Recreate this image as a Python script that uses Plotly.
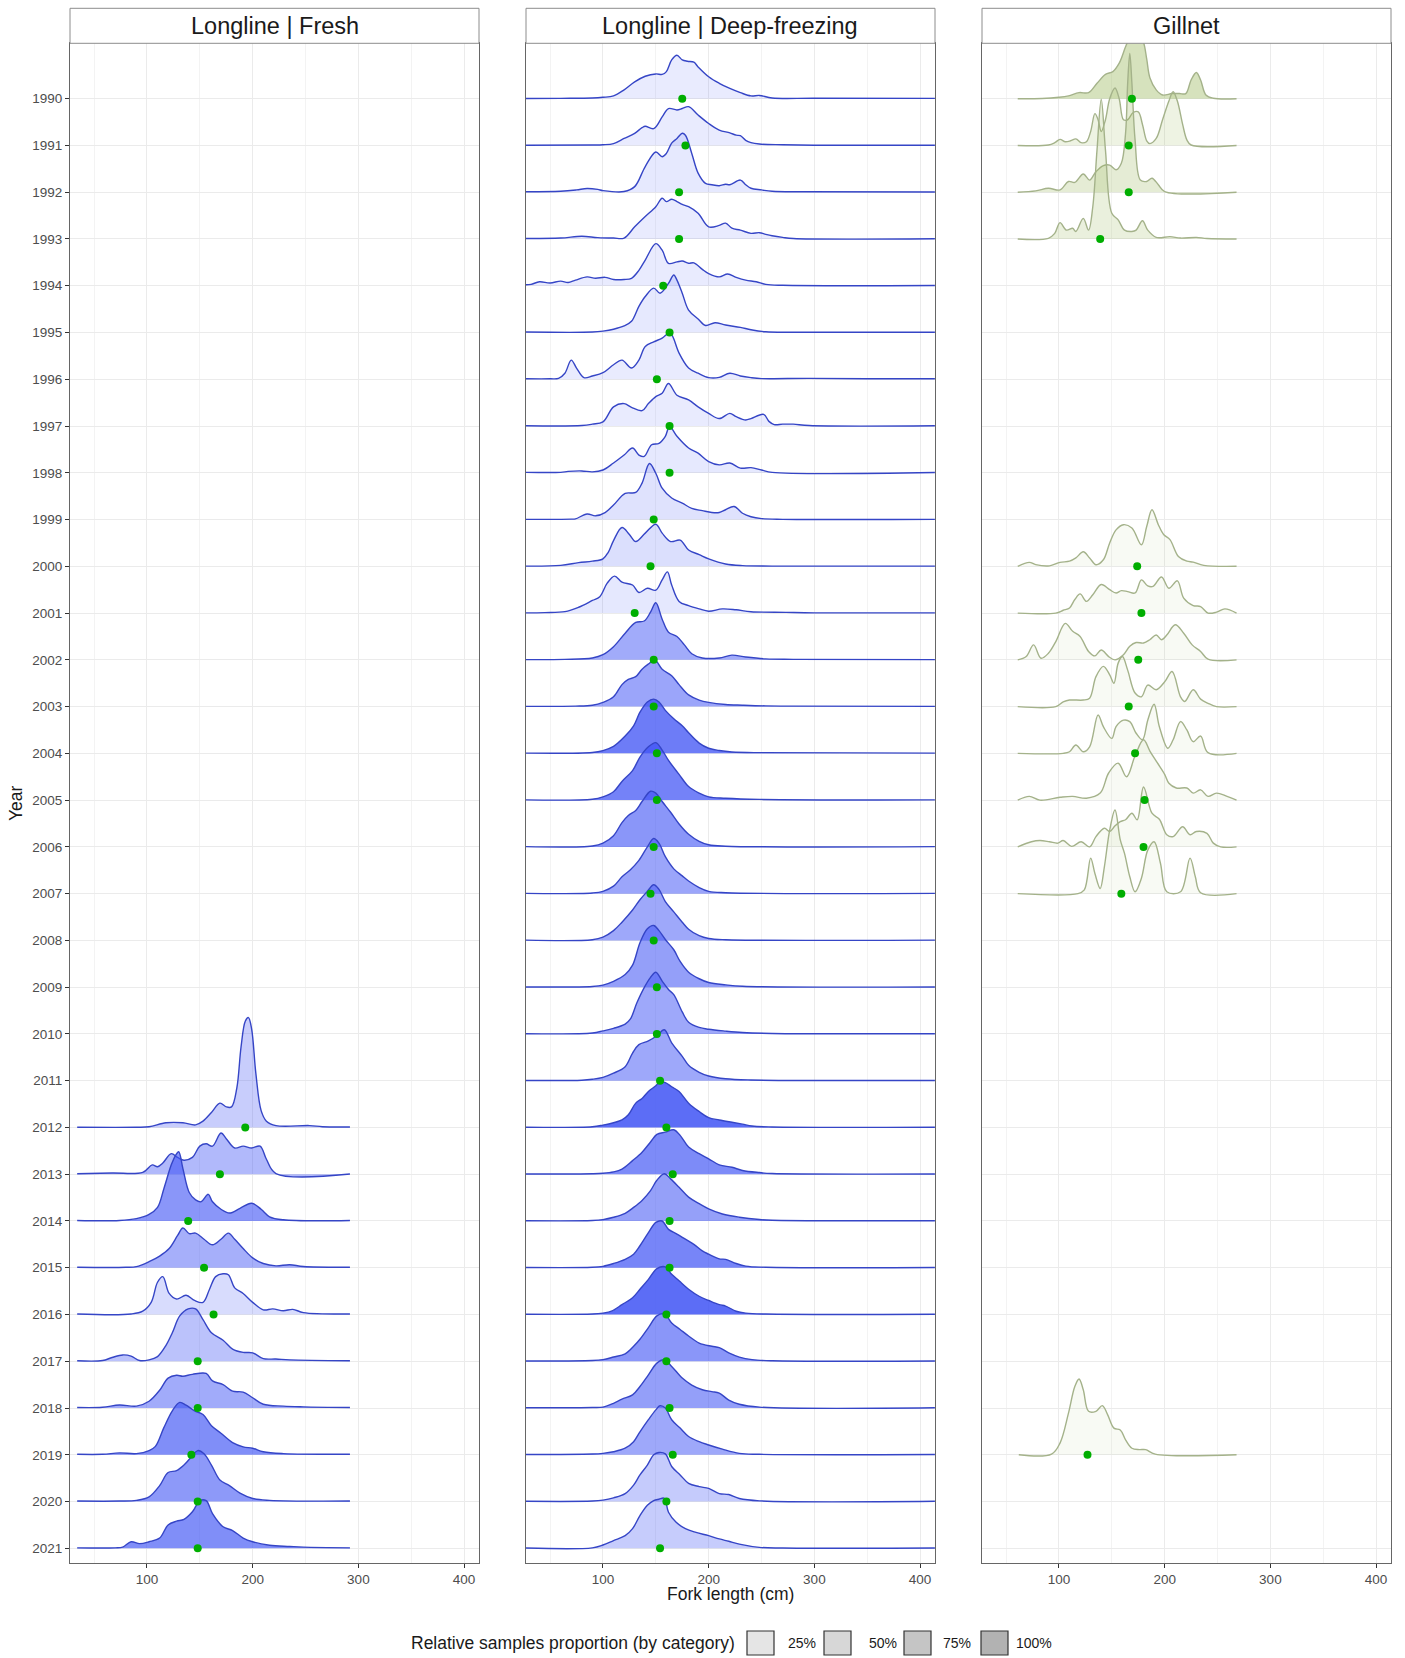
import plotly.graph_objects as go

# ---------------------------------------------------------------- data
YEARS = list(range(1990, 2022))
X_TICKS = [100, 200, 300, 400]
X_MINOR = [50, 150, 250, 350]
PANELS = ["Longline | Fresh", "Longline | Deep-freezing", "Gillnet"]
PROPORTION_LABELS = ["25%", "50%", "75%", "100%"]

# Longline | Fresh : scaled density profiles (fork length cm, height in rows)
FRESH_YEARS = [2012, 2013, 2014, 2015, 2016, 2017, 2018, 2019, 2020, 2021]
FRESH_PROP = [0.34, 0.48, 0.72, 0.55, 0.24, 0.42, 0.58, 0.78, 0.70, 0.78]
FRESH_MEAN = [193, 169, 139, 154, 163, 148, 148, 142, 148, 148]
FRESH_DENSITY = {
    2012: [(34, 0.005), (90, 0.005), (102, 0.015), (118, 0.1), (134, 0.1), (146, 0.055), (153, 0.135),
           (161, 0.32), (169, 0.52), (175, 0.44), (180, 0.44), (185, 0.84), (189, 1.72), (193, 2.27),
           (196, 2.35), (199, 2.11), (203, 1.16), (208, 0.36), (213, 0.135), (222, 0.04), (254, 0.04),
           (266, 0.015), (292, 0.01)],
    2013: [(34, 0.01), (67, 0.025), (96, 0.04), (105, 0.2), (110, 0.16), (115, 0.24), (123, 0.44),
           (129, 0.36), (135, 0.3), (143, 0.36), (150, 0.6), (156, 0.65), (162, 0.6), (170, 0.88),
           (175, 0.76), (183, 0.56), (191, 0.6), (199, 0.56), (207, 0.6), (213, 0.32), (222, 0.015),
           (292, 0.005)],
    2014: [(34, 0.01), (74, 0.01), (90, 0.05), (102, 0.14), (110, 0.29), (116, 0.69), (123, 1.2),
           (127, 1.4), (130, 1.48), (134, 1.12), (140, 0.61), (146, 0.45), (151, 0.41), (158, 0.57),
           (162, 0.41), (170, 0.25), (178, 0.17), (188, 0.27), (199, 0.38), (208, 0.25), (216, 0.09),
           (229, 0.025), (292, 0.01)],
    2015: [(34, 0.01), (80, 0.01), (90, 0.025), (102, 0.13), (112, 0.25), (121, 0.41), (129, 0.69),
           (134, 0.85), (140, 0.73), (146, 0.74), (154, 0.61), (162, 0.49), (170, 0.61), (177, 0.74),
           (183, 0.61), (191, 0.41), (200, 0.21), (210, 0.09), (222, 0.04), (235, 0.065), (248, 0.025),
           (292, 0.01)],
    2016: [(34, 0.01), (85, 0.01), (96, 0.07), (104, 0.26), (110, 0.69), (115, 0.81), (121, 0.45),
           (128, 0.33), (137, 0.41), (145, 0.3), (153, 0.26), (159, 0.53), (165, 0.81), (172, 0.87),
           (177, 0.85), (183, 0.57), (191, 0.45), (200, 0.26), (210, 0.1), (219, 0.12), (229, 0.08),
           (238, 0.11), (248, 0.04), (292, 0.01)],
    2017: [(34, 0.01), (58, 0.015), (67, 0.08), (77, 0.135), (85, 0.11), (93, 0.015), (102, 0.03),
           (110, 0.1), (118, 0.34), (124, 0.61), (131, 0.97), (139, 1.12), (146, 1.12), (153, 0.89),
           (161, 0.61), (172, 0.45), (181, 0.26), (191, 0.19), (200, 0.18), (210, 0.056), (222, 0.048),
           (235, 0.03), (292, 0.01)],
    2018: [(34, 0.01), (58, 0.015), (74, 0.065), (90, 0.04), (102, 0.145), (112, 0.38), (120, 0.64),
           (128, 0.7), (134, 0.68), (143, 0.72), (156, 0.74), (162, 0.58), (172, 0.5), (181, 0.36),
           (191, 0.34), (200, 0.22), (210, 0.08), (229, 0.04), (248, 0.025), (292, 0.01)],
    2019: [(34, 0.01), (58, 0.01), (74, 0.04), (90, 0.025), (102, 0.09), (108, 0.18), (116, 0.58),
           (124, 0.94), (131, 1.12), (137, 1.06), (145, 0.94), (153, 0.86), (161, 0.62), (170, 0.46),
           (181, 0.26), (191, 0.17), (200, 0.14), (210, 0.065), (229, 0.025), (292, 0.01)],
    2020: [(34, 0.01), (74, 0.01), (90, 0.025), (102, 0.1), (112, 0.34), (120, 0.62), (128, 0.66),
           (135, 0.78), (143, 0.98), (148, 1.09), (154, 1.02), (161, 0.78), (169, 0.46), (178, 0.34),
           (188, 0.18), (200, 0.065), (216, 0.025), (292, 0.01)],
    2021: [(34, 0.01), (70, 0.01), (77, 0.025), (85, 0.14), (93, 0.1), (102, 0.14), (112, 0.22),
           (120, 0.5), (128, 0.58), (135, 0.62), (143, 0.78), (150, 1.02), (156, 1.02), (162, 0.74),
           (172, 0.46), (181, 0.38), (191, 0.22), (200, 0.14), (216, 0.065), (235, 0.04), (248, 0.025),
           (292, 0.01)],
}

# Longline | Deep-freezing
DEEP_YEARS = YEARS
DEEP_PROP = [0.14, 0.14, 0.15, 0.14, 0.14, 0.15, 0.14, 0.14, 0.15, 0.2, 0.22, 0.16,
             0.58, 0.62, 0.9, 0.86, 0.72, 0.62, 0.6, 0.66, 0.6, 0.6,
             1.0, 0.8, 0.65, 0.84, 1.0, 0.72, 0.66, 0.6, 0.36, 0.35]
DEEP_MEAN = [175, 178, 172, 172, 157, 163, 151, 163, 163, 148, 145, 130,
             148, 148, 151, 151, 148, 145, 148, 151, 151, 154,
             160, 166, 163, 163, 160, 160, 163, 166, 160, 154]
DEEP_DENSITY = {
    1990: [(27, 0.005), (60, 0.008), (90, 0.015), (100, 0.03), (110, 0.06), (120, 0.19), (130, 0.36),
           (140, 0.48), (150, 0.53), (156, 0.52), (160, 0.58), (165, 0.83), (170, 0.93), (175, 0.83),
           (180, 0.8), (186, 0.78), (190, 0.68), (200, 0.47), (210, 0.33), (220, 0.22), (230, 0.13),
           (240, 0.06), (248, 0.07), (260, 0.015), (300, 0.01), (414, 0.008)],
    1991: [(27, 0.005), (90, 0.01), (100, 0.015), (110, 0.04), (120, 0.15), (130, 0.26), (137, 0.38),
           (140, 0.41), (148, 0.36), (156, 0.61), (162, 0.79), (170, 0.76), (175, 0.79), (181, 0.83),
           (190, 0.65), (200, 0.47), (210, 0.33), (220, 0.27), (226, 0.22), (230, 0.21), (235, 0.11),
           (240, 0.06), (248, 0.03), (270, 0.015), (300, 0.005), (414, 0.005)],
    1992: [(27, 0.01), (60, 0.02), (75, 0.05), (85, 0.08), (95, 0.06), (100, 0.035), (120, 0.015),
           (130, 0.12), (140, 0.55), (150, 0.86), (156, 0.76), (160, 0.83), (165, 1.05), (170, 1.15),
           (175, 1.26), (178, 1.22), (184, 0.83), (190, 0.41), (197, 0.19), (203, 0.16), (210, 0.14),
           (216, 0.17), (220, 0.16), (230, 0.26), (235, 0.16), (240, 0.085), (250, 0.05), (260, 0.02),
           (290, 0.01), (414, 0.005)],
    1993: [(27, 0.01), (60, 0.02), (80, 0.06), (95, 0.03), (110, 0.02), (120, 0.02), (130, 0.26),
           (140, 0.48), (150, 0.69), (156, 0.87), (160, 0.8), (165, 0.85), (170, 0.8), (175, 0.74),
           (181, 0.69), (190, 0.55), (200, 0.26), (210, 0.29), (216, 0.34), (222, 0.23), (230, 0.19),
           (240, 0.12), (248, 0.135), (254, 0.1), (260, 0.07), (270, 0.035), (280, 0.01), (414, 0.005)],
    1994: [(27, 0.02), (32, 0.03), (40, 0.085), (50, 0.06), (60, 0.1), (67, 0.07), (74, 0.12), (85, 0.19),
           (93, 0.16), (102, 0.18), (110, 0.135), (120, 0.135), (127, 0.16), (134, 0.33), (140, 0.55),
           (150, 0.9), (156, 0.76), (162, 0.48), (170, 0.51), (175, 0.53), (181, 0.48), (186, 0.49),
           (194, 0.35), (200, 0.26), (210, 0.19), (218, 0.25), (226, 0.18), (235, 0.12), (245, 0.085),
           (254, 0.03), (270, 0.01), (414, 0.005)],
    1995: [(27, 0.01), (90, 0.01), (100, 0.03), (110, 0.07), (120, 0.14), (127, 0.24), (134, 0.56),
           (140, 0.77), (148, 0.95), (154, 0.84), (162, 1.05), (167, 1.23), (170, 1.12), (175, 0.84),
           (181, 0.48), (190, 0.29), (197, 0.15), (206, 0.21), (216, 0.16), (230, 0.11), (240, 0.06),
           (254, 0.015), (280, 0.005), (414, 0.005)],
    1996: [(27, 0.01), (50, 0.01), (58, 0.02), (64, 0.13), (70, 0.41), (75, 0.24), (82, 0.035), (90, 0.07),
           (100, 0.14), (110, 0.31), (118, 0.41), (127, 0.24), (134, 0.41), (140, 0.7), (148, 0.8),
           (156, 0.88), (162, 0.98), (165, 0.95), (172, 0.56), (181, 0.24), (190, 0.13), (200, 0.035),
           (210, 0.04), (220, 0.13), (230, 0.07), (240, 0.035), (250, 0.015), (295, 0.02), (350, 0.01),
           (414, 0.01)],
    1997: [(27, 0.005), (80, 0.01), (90, 0.04), (100, 0.09), (110, 0.41), (120, 0.48), (127, 0.4),
           (137, 0.33), (143, 0.48), (150, 0.63), (156, 0.7), (162, 0.91), (170, 0.66), (181, 0.56),
           (190, 0.41), (200, 0.27), (210, 0.16), (220, 0.27), (226, 0.2), (235, 0.13), (240, 0.16),
           (252, 0.25), (257, 0.1), (262, 0.03), (270, 0.04), (280, 0.04), (295, 0.01), (414, 0.005)],
    1998: [(27, 0.01), (60, 0.01), (67, 0.03), (80, 0.04), (90, 0.02), (100, 0.06), (110, 0.21),
           (120, 0.38), (128, 0.53), (134, 0.38), (139, 0.35), (146, 0.6), (153, 0.63), (159, 0.78),
           (163, 0.99), (170, 0.78), (181, 0.53), (190, 0.42), (200, 0.24), (210, 0.17), (220, 0.21),
           (230, 0.1), (240, 0.11), (250, 0.06), (260, 0.01), (414, 0.005)],
    1999: [(27, 0.005), (70, 0.01), (74, 0.015), (85, 0.12), (93, 0.08), (102, 0.15), (110, 0.31),
           (121, 0.56), (131, 0.58), (137, 0.78), (144, 1.2), (150, 0.99), (156, 0.67), (165, 0.46),
           (175, 0.35), (184, 0.24), (194, 0.19), (203, 0.15), (210, 0.15), (216, 0.21), (224, 0.28),
           (232, 0.135), (240, 0.06), (250, 0.02), (270, 0.005), (414, 0.005)],
    2000: [(27, 0.005), (60, 0.02), (77, 0.08), (90, 0.11), (100, 0.16), (105, 0.3), (110, 0.55),
           (118, 0.83), (125, 0.68), (131, 0.53), (140, 0.71), (150, 0.9), (156, 0.71), (164, 0.53),
           (173, 0.56), (181, 0.35), (191, 0.25), (200, 0.16), (216, 0.05), (232, 0.015), (260, 0.005),
           (414, 0.005)],
    2001: [(27, 0.005), (45, 0.01), (64, 0.03), (77, 0.125), (90, 0.27), (97, 0.35), (104, 0.64),
           (111, 0.79), (118, 0.66), (128, 0.6), (134, 0.44), (142, 0.53), (150, 0.49), (156, 0.71),
           (161, 0.88), (165, 0.6), (172, 0.25), (181, 0.16), (191, 0.09), (200, 0.04), (213, 0.09),
           (226, 0.07), (240, 0.03), (273, 0.015), (300, 0.005), (414, 0.005)],
    2002: [(27, 0.005), (64, 0.01), (90, 0.04), (100, 0.11), (110, 0.28), (121, 0.57), (131, 0.8),
           (139, 0.83), (145, 1.02), (150, 1.22), (156, 0.87), (162, 0.59), (170, 0.5), (177, 0.32),
           (184, 0.13), (194, 0.04), (210, 0.04), (222, 0.1), (235, 0.06), (254, 0.02), (280, 0.01),
           (414, 0.005)],
    2003: [(27, 0.005), (74, 0.01), (90, 0.03), (100, 0.09), (110, 0.21), (118, 0.47), (124, 0.58),
           (131, 0.64), (137, 0.8), (143, 0.91), (149, 1.0), (156, 0.8), (165, 0.66), (172, 0.47),
           (181, 0.25), (191, 0.14), (200, 0.09), (216, 0.045), (232, 0.03), (254, 0.015), (280, 0.01),
           (414, 0.005)],
    2004: [(27, 0.005), (90, 0.02), (100, 0.06), (110, 0.15), (121, 0.37), (129, 0.59), (135, 0.88),
           (142, 1.1), (148, 1.16), (153, 1.1), (159, 0.92), (167, 0.74), (175, 0.59), (181, 0.44),
           (191, 0.22), (200, 0.11), (210, 0.06), (222, 0.03), (248, 0.015), (414, 0.005)],
    2005: [(27, 0.005), (90, 0.02), (100, 0.07), (110, 0.18), (118, 0.4), (128, 0.63), (135, 0.92),
           (143, 1.14), (150, 1.23), (156, 1.07), (162, 0.85), (172, 0.55), (181, 0.29), (191, 0.15),
           (200, 0.07), (216, 0.04), (248, 0.015), (414, 0.005)],
    2006: [(27, 0.005), (90, 0.02), (100, 0.08), (110, 0.24), (118, 0.52), (124, 0.67), (131, 0.78),
           (137, 0.97), (145, 1.19), (150, 1.15), (156, 0.97), (164, 0.74), (172, 0.49), (181, 0.27),
           (191, 0.12), (200, 0.045), (216, 0.015), (414, 0.005)],
    2007: [(27, 0.005), (90, 0.015), (100, 0.05), (110, 0.16), (118, 0.36), (126, 0.51), (134, 0.71),
           (142, 1.0), (148, 1.18), (153, 1.08), (159, 0.79), (167, 0.53), (175, 0.38), (181, 0.27),
           (191, 0.13), (200, 0.05), (216, 0.02), (414, 0.005)],
    2008: [(27, 0.005), (90, 0.015), (100, 0.07), (110, 0.21), (118, 0.39), (128, 0.65), (135, 0.87),
           (142, 1.05), (148, 1.19), (153, 1.09), (159, 0.83), (167, 0.61), (175, 0.39), (181, 0.24),
           (191, 0.1), (200, 0.04), (216, 0.015), (414, 0.005)],
    2009: [(27, 0.005), (90, 0.015), (100, 0.045), (110, 0.125), (121, 0.27), (128, 0.47), (135, 0.95),
           (142, 1.25), (148, 1.32), (153, 1.21), (159, 1.02), (167, 0.8), (173, 0.55), (181, 0.32),
           (191, 0.18), (200, 0.1), (216, 0.05), (232, 0.02), (414, 0.005)],
    2010: [(27, 0.005), (90, 0.02), (100, 0.065), (110, 0.12), (121, 0.21), (126, 0.32), (132, 0.66),
           (139, 0.99), (145, 1.21), (150, 1.32), (156, 1.13), (162, 0.95), (167, 0.84), (175, 0.47),
           (181, 0.25), (191, 0.14), (200, 0.1), (216, 0.06), (232, 0.03), (260, 0.01), (414, 0.005)],
    2011: [(27, 0.005), (80, 0.01), (90, 0.03), (100, 0.07), (110, 0.16), (121, 0.3), (128, 0.59),
           (134, 0.77), (143, 0.85), (151, 0.96), (158, 1.09), (165, 0.81), (175, 0.52), (181, 0.33),
           (191, 0.18), (200, 0.1), (216, 0.04), (240, 0.015), (414, 0.005)],
    2012: [(27, 0.005), (90, 0.015), (100, 0.05), (110, 0.1), (118, 0.16), (124, 0.27), (131, 0.52),
           (137, 0.62), (143, 0.77), (150, 0.89), (154, 0.98), (159, 0.96), (165, 0.87), (172, 0.77),
           (181, 0.52), (191, 0.34), (200, 0.21), (210, 0.16), (222, 0.11), (232, 0.07), (241, 0.03),
           (260, 0.01), (414, 0.005)],
    2013: [(27, 0.005), (90, 0.01), (100, 0.02), (110, 0.05), (118, 0.11), (128, 0.29), (137, 0.47),
           (145, 0.69), (151, 0.85), (159, 0.9), (167, 0.95), (173, 0.83), (181, 0.58), (191, 0.44),
           (200, 0.33), (210, 0.2), (222, 0.15), (232, 0.08), (248, 0.035), (260, 0.015), (414, 0.005)],
    2014: [(27, 0.005), (90, 0.01), (100, 0.03), (110, 0.08), (121, 0.165), (129, 0.29), (137, 0.44),
           (145, 0.65), (151, 0.87), (158, 1.01), (164, 0.9), (172, 0.72), (181, 0.51), (191, 0.37),
           (200, 0.26), (213, 0.15), (229, 0.08), (248, 0.03), (260, 0.015), (414, 0.005)],
    2015: [(27, 0.005), (90, 0.01), (100, 0.03), (110, 0.09), (121, 0.18), (129, 0.29), (135, 0.47),
           (143, 0.75), (150, 0.97), (156, 1.0), (162, 0.82), (170, 0.72), (178, 0.61), (186, 0.5),
           (194, 0.36), (200, 0.29), (210, 0.19), (216, 0.18), (226, 0.09), (235, 0.035), (254, 0.01),
           (414, 0.005)],
    2016: [(27, 0.005), (90, 0.01), (100, 0.03), (108, 0.07), (118, 0.21), (128, 0.36), (135, 0.54),
           (143, 0.75), (151, 0.98), (159, 1.02), (165, 0.86), (172, 0.72), (181, 0.54), (191, 0.39),
           (200, 0.3), (210, 0.21), (216, 0.18), (226, 0.07), (235, 0.03), (254, 0.01), (414, 0.005)],
    2017: [(27, 0.005), (90, 0.015), (100, 0.035), (110, 0.09), (121, 0.16), (129, 0.32), (135, 0.47),
           (143, 0.72), (151, 0.97), (158, 1.02), (165, 0.82), (173, 0.68), (181, 0.54), (191, 0.39),
           (203, 0.32), (210, 0.29), (219, 0.18), (229, 0.09), (241, 0.035), (260, 0.01), (414, 0.005)],
    2018: [(27, 0.005), (90, 0.01), (100, 0.02), (110, 0.1), (118, 0.19), (128, 0.28), (135, 0.46),
           (143, 0.71), (151, 0.96), (158, 1.03), (165, 0.89), (175, 0.64), (184, 0.49), (194, 0.39),
           (203, 0.35), (210, 0.32), (219, 0.17), (229, 0.08), (248, 0.02), (414, 0.005)],
    2019: [(27, 0.005), (90, 0.015), (100, 0.03), (110, 0.065), (121, 0.14), (129, 0.28), (135, 0.49),
           (143, 0.75), (150, 0.96), (154, 1.05), (159, 1.0), (165, 0.75), (173, 0.57), (181, 0.39),
           (191, 0.28), (200, 0.21), (213, 0.12), (229, 0.03), (248, 0.01), (414, 0.005)],
    2020: [(27, 0.005), (90, 0.01), (100, 0.03), (110, 0.08), (121, 0.17), (129, 0.35), (135, 0.57),
           (142, 0.78), (148, 1.0), (153, 1.05), (159, 1.02), (165, 0.75), (173, 0.57), (181, 0.39),
           (191, 0.32), (200, 0.28), (210, 0.17), (219, 0.15), (229, 0.065), (248, 0.015), (414, 0.005)],
    2021: [(27, 0.005), (90, 0.01), (100, 0.07), (110, 0.165), (121, 0.27), (128, 0.42), (135, 0.7),
           (142, 0.92), (148, 1.02), (153, 1.05), (158, 1.07), (162, 0.77), (169, 0.56), (178, 0.42),
           (188, 0.34), (200, 0.27), (210, 0.2), (219, 0.15), (229, 0.09), (248, 0.02), (270, 0.005),
           (414, 0.005)],
}

# Gillnet
GILL_YEARS = [1990, 1991, 1992, 1993, 2000, 2001, 2002, 2003, 2004, 2005, 2006, 2007, 2019]
GILL_PROP = [0.47, 0.2, 0.3, 0.24, 0.08, 0.08, 0.08, 0.08, 0.08, 0.08, 0.08, 0.08, 0.08]
GILL_MEAN = [169, 166, 166, 139, 174, 178, 175, 166, 172, 181, 180, 159, 127]
GILL_DENSITY = {
    1990: [(61, 0), (84, 0.005), (100, 0.03), (109, 0.06), (119, 0.13), (128, 0.13), (136, 0.33),
           (144, 0.52), (151, 0.58), (157, 0.76), (163, 1.11), (167, 1.3), (172, 1.33), (177, 1.3),
           (180, 1.2), (183, 0.85), (186, 0.45), (192, 0.19), (198, 0.08), (207, 0.11), (214, 0.11),
           (220, 0.11), (225, 0.4), (230, 0.56), (234, 0.4), (239, 0.08), (246, 0.01), (268, 0)],
    1991: [(61, 0), (90, 0.01), (96, 0.06), (101, 0.13), (106, 0.08), (111, 0.1), (116, 0.14), (121, 0.06),
           (126, 0.08), (130, 0.3), (134, 0.68), (137, 0.55), (140, 0.3), (144, 0.55), (148, 1.0),
           (153, 1.23), (157, 1.0), (161, 0.55), (165, 0.55), (170, 0.7), (175, 0.72), (179, 0.45),
           (183, 0.1), (186, 0.04), (192, 0.15), (198, 0.55), (204, 0.95), (208, 1.15), (212, 0.95),
           (217, 0.45), (221, 0.12), (225, 0.01), (268, 0)],
    1992: [(61, 0), (78, 0.03), (90, 0.085), (101, 0.05), (109, 0.23), (115, 0.21), (123, 0.39),
           (129, 0.26), (135, 0.44), (142, 0.57), (148, 0.58), (154, 0.48), (159, 0.62), (163, 1.26),
           (165, 2.33), (167, 2.97), (169, 2.33), (172, 1.12), (177, 0.26), (183, 0.23), (188, 0.3),
           (194, 0.16), (200, 0.015), (268, 0)],
    1993: [(61, 0), (90, 0.015), (96, 0.12), (101, 0.35), (107, 0.19), (113, 0.23), (116, 0.16),
           (123, 0.44), (128, 0.19), (132, 0.69), (136, 1.9), (140, 2.99), (144, 1.9), (150, 0.55),
           (156, 0.41), (162, 0.19), (169, 0.16), (173, 0.19), (179, 0.39), (184, 0.19), (192, 0.035),
           (205, 0.05), (215, 0.02), (230, 0.035), (240, 0.01), (268, 0)],
    2000: [(61, 0), (72, 0.085), (78, 0.035), (91, 0.01), (101, 0.085), (110, 0.11), (116, 0.18),
           (123, 0.31), (129, 0.18), (135, 0.035), (142, 0.14), (148, 0.5), (154, 0.78), (161, 0.89),
           (169, 0.82), (178, 0.46), (183, 0.85), (188, 1.21), (194, 0.89), (199, 0.68), (205, 0.57),
           (213, 0.21), (221, 0.11), (227, 0.09), (237, 0.02), (268, 0)],
    2001: [(61, 0), (97, 0), (104, 0.06), (110, 0.11), (115, 0.29), (120, 0.41), (126, 0.25), (132, 0.39),
           (140, 0.61), (148, 0.5), (154, 0.43), (159, 0.48), (165, 0.46), (172, 0.43), (178, 0.71),
           (184, 0.58), (189, 0.57), (197, 0.77), (204, 0.53), (212, 0.69), (218, 0.32), (227, 0.16),
           (234, 0.14), (241, 0.0), (249, 0.02), (257, 0.09), (268, 0)],
    2002: [(61, 0), (69, 0.07), (76, 0.32), (83, 0.035), (90, 0.14), (97, 0.39), (106, 0.78), (113, 0.61),
           (120, 0.5), (128, 0.18), (134, 0.085), (140, 0.21), (147, 0.07), (153, 0.0), (161, 0.11),
           (167, 0.29), (173, 0.37), (180, 0.36), (186, 0.43), (192, 0.53), (197, 0.43), (202, 0.53),
           (210, 0.75), (218, 0.57), (226, 0.32), (234, 0.18), (241, 0.015), (268, 0)],
    2003: [(61, 0), (97, 0), (104, 0.1), (110, 0.14), (123, 0.14), (129, 0.18), (135, 0.64), (142, 0.86),
           (148, 0.68), (152, 0.5), (156, 0.93), (160, 1.07), (165, 0.78), (172, 0.29), (178, 0.21),
           (184, 0.46), (192, 0.36), (200, 0.53), (207, 0.75), (215, 0.21), (219, 0.11), (227, 0.36),
           (234, 0.16), (241, 0.07), (249, 0.0), (268, 0)],
    2004: [(61, 0), (104, 0), (110, 0.035), (116, 0.18), (123, 0.035), (129, 0.14), (137, 0.82),
           (142, 0.57), (150, 0.32), (154, 0.57), (161, 0.71), (167, 0.68), (173, 0.43), (179, 0.29),
           (184, 0.71), (190, 1.05), (195, 0.57), (203, 0.11), (208, 0.29), (215, 0.68), (221, 0.5),
           (227, 0.25), (234, 0.37), (241, 0.015), (268, 0)],
    2005: [(61, 0), (72, 0.08), (82, 0.0), (101, 0.06), (113, 0.08), (126, 0.04), (139, 0.15), (147, 0.58),
           (156, 0.79), (164, 0.5), (172, 0.95), (180, 1.29), (186, 1.05), (193, 0.8), (200, 0.55),
           (204, 0.36), (211, 0.26), (221, 0.26), (227, 0.15), (234, 0.22), (241, 0.08), (249, 0.15),
           (259, 0.08), (268, 0)],
    2006: [(61, 0), (74, 0.11), (82, 0.135), (91, 0.11), (99, 0.08), (104, 0.135), (112, 0.01),
           (121, 0.11), (129, 0.0), (135, 0.22), (143, 0.4), (148, 0.33), (153, 0.45), (158, 0.54),
           (163, 0.58), (169, 0.72), (174, 0.58), (180, 1.28), (188, 0.72), (195, 0.59), (202, 0.26),
           (208, 0.22), (217, 0.43), (224, 0.26), (230, 0.33), (240, 0.29), (246, 0.08), (253, 0), (268, 0)],
    2007: [(61, 0), (118, 0), (124, 0.08), (130, 0.76), (134, 0.43), (139, 0.11), (143, 0.58), (148, 1.36),
           (153, 1.79), (158, 1.15), (162, 0.86), (167, 0.36), (172, 0.04), (178, 0.33), (184, 0.93),
           (190, 1.11), (196, 0.65), (202, 0.04), (215, 0.04), (224, 0.76), (229, 0.36), (234, 0.02),
           (268, 0)],
    2019: [(62, 0), (93, 0.015), (101, 0.25), (109, 0.89), (115, 1.46), (119, 1.62), (123, 1.39),
           (128, 0.93), (135, 0.93), (141, 1.05), (146, 0.86), (152, 0.57), (158, 0.53), (163, 0.32),
           (169, 0.14), (176, 0.11), (182, 0.11), (191, 0.015), (268, 0)],
}

# ---------------------------------------------------------------- styling
W, H = 1405, 1658
FONT = "Liberation Sans, Arial, sans-serif"
X_RANGE = [27.2, 414.1]
Y_RANGE = [-0.308, 32.185]
PANEL_PX = [(70, 479), (526, 935), (982, 1391)]
PLOT_TOP_PX, PLOT_BOTTOM_PX, STRIP_TOP_PX = 43.3, 1562.7, 8.3
Y_DOMAIN = [1 - PLOT_BOTTOM_PX / H, 1 - PLOT_TOP_PX / H]

BLUE_FILL = (64, 84, 245)
BLUE_LINE = "#3545c6"
GREEN_FILL = (152, 182, 90)
GREEN_LINE = "#a4b28a"
MEAN_COLOR = "#00ae00"
ALPHA_SCALE = 0.85


def row_of(year):
    return 2021 - year


fig = go.Figure()


def add_ridges(idx, years, props, means, dens, fill_rgb, line_color):
    xa = "x" if idx == 0 else f"x{idx + 1}"
    ya = "y" if idx == 0 else f"y{idx + 1}"
    for year, prop in zip(years, props):
        prof = dens[year]
        xs = [p[0] for p in prof]
        base = row_of(year)
        ys = [base + p[1] for p in prof]
        # invisible baseline the ridge fill closes onto
        fig.add_trace(go.Scatter(x=[xs[0], xs[-1]], y=[base, base], mode="lines",
                                 line=dict(width=0, color="rgba(0,0,0,0)"),
                                 xaxis=xa, yaxis=ya, hoverinfo="skip", showlegend=False))
        a = ALPHA_SCALE * prop
        fig.add_trace(go.Scatter(x=xs, y=ys, mode="lines",
                                 line=dict(color=line_color, width=1.4, shape="spline", smoothing=1.0),
                                 fill="tonexty",
                                 fillcolor=f"rgba({fill_rgb[0]},{fill_rgb[1]},{fill_rgb[2]},{a:.3f})",
                                 xaxis=xa, yaxis=ya, name=str(year), showlegend=False))
    fig.add_trace(go.Scatter(x=means, y=[row_of(y) for y in years], mode="markers",
                             marker=dict(color=MEAN_COLOR, size=8, line=dict(width=0)),
                             xaxis=xa, yaxis=ya, showlegend=False, hoverinfo="x"))


add_ridges(0, FRESH_YEARS, FRESH_PROP, FRESH_MEAN, FRESH_DENSITY, BLUE_FILL, BLUE_LINE)
add_ridges(1, DEEP_YEARS, DEEP_PROP, DEEP_MEAN, DEEP_DENSITY, BLUE_FILL, BLUE_LINE)
add_ridges(2, GILL_YEARS, GILL_PROP, GILL_MEAN, GILL_DENSITY, GREEN_FILL, GREEN_LINE)

layout = dict(
    width=W, height=H,
    margin=dict(l=0, r=0, t=0, b=0, pad=0),
    paper_bgcolor="white", plot_bgcolor="white",
    font=dict(family=FONT, color="#1a1a1a"),
    showlegend=False,
)

shapes = []
annotations = []
for i, (p0, p1) in enumerate(PANEL_PX):
    sfx = "" if i == 0 else str(i + 1)
    layout[f"xaxis{sfx}"] = dict(
        domain=[p0 / W, p1 / W], range=X_RANGE, anchor=f"y{sfx}",
        tickvals=X_TICKS, ticks="outside", ticklen=4, tickwidth=1, tickcolor="#333333",
        tickfont=dict(size=13.5, color="#4d4d4d", family=FONT),
        showgrid=True, gridcolor="#ebebeb", gridwidth=1,
        minor=dict(tickvals=X_MINOR, showgrid=True, gridcolor="#f3f3f3", gridwidth=0.7, ticks=""),
        showline=True, mirror=True, linecolor="#666666", linewidth=1, zeroline=False,
    )
    layout[f"yaxis{sfx}"] = dict(
        domain=Y_DOMAIN, range=Y_RANGE, anchor=f"x{sfx}",
        tickvals=[row_of(y) for y in YEARS], ticktext=[str(y) for y in YEARS],
        showticklabels=(i == 0), ticks="outside" if i == 0 else "",
        ticklen=4, tickwidth=1, tickcolor="#333333",
        tickfont=dict(size=13.5, color="#4d4d4d", family=FONT),
        showgrid=True, gridcolor="#ebebeb", gridwidth=1,
        showline=True, mirror=True, linecolor="#666666", linewidth=1, zeroline=False,
    )
    # facet strip
    shapes.append(dict(type="rect", xref="paper", yref="paper",
                       x0=p0 / W, x1=p1 / W, y0=Y_DOMAIN[1], y1=1 - STRIP_TOP_PX / H,
                       fillcolor="white", line=dict(color="#8c8c8c", width=1), layer="above"))
    annotations.append(dict(text=PANELS[i], xref="paper", yref="paper",
                            x=(p0 + p1) / 2 / W, y=1 - (STRIP_TOP_PX + PLOT_TOP_PX) / 2 / H,
                            xanchor="center", yanchor="middle", showarrow=False,
                            font=dict(size=23.5, color="#1a1a1a", family=FONT)))

# axis titles
annotations.append(dict(text="Fork length (cm)", xref="paper", yref="paper",
                        x=(PANEL_PX[1][0] + PANEL_PX[1][1]) / 2 / W, y=1 - 1594 / H,
                        xanchor="center", yanchor="middle", showarrow=False,
                        font=dict(size=17.5, color="#1a1a1a", family=FONT)))
annotations.append(dict(text="Year", xref="paper", yref="paper",
                        x=16 / W, y=1 - (PLOT_TOP_PX + PLOT_BOTTOM_PX) / 2 / H,
                        xanchor="center", yanchor="middle", textangle=-90, showarrow=False,
                        font=dict(size=17.5, color="#1a1a1a", family=FONT)))

# alpha legend
LEG_Y0, LEG_Y1 = 1631, 1655
LEG_MID = (LEG_Y0 + LEG_Y1) / 2
annotations.append(dict(text="Relative samples proportion (by category)", xref="paper", yref="paper",
                        x=737 / W, y=1 - LEG_MID / H, xanchor="right", yanchor="middle",
                        showarrow=False, font=dict(size=17.5, color="#1a1a1a", family=FONT)))
LEG_BOX_X = [747, 824, 904, 981]
LEG_TXT_X = [786, 867, 941, 1014]
LEG_FILLS = ["#e5e5e5", "#d7d7d7", "#c5c5c5", "#b2b2b2"]
for bx, tx, fc, lab in zip(LEG_BOX_X, LEG_TXT_X, LEG_FILLS, PROPORTION_LABELS):
    shapes.append(dict(type="rect", xref="paper", yref="paper",
                       x0=bx / W, x1=(bx + 27) / W, y0=1 - LEG_Y1 / H, y1=1 - LEG_Y0 / H,
                       fillcolor=fc, line=dict(color="#333333", width=1.2)))
    annotations.append(dict(text=lab, xref="paper", yref="paper",
                            x=tx / W, y=1 - LEG_MID / H, xanchor="left", yanchor="middle",
                            showarrow=False, font=dict(size=14, color="#1a1a1a", family=FONT)))

layout["shapes"] = shapes
layout["annotations"] = annotations
fig.update_layout(**layout)

fig.write_html("out.html")
